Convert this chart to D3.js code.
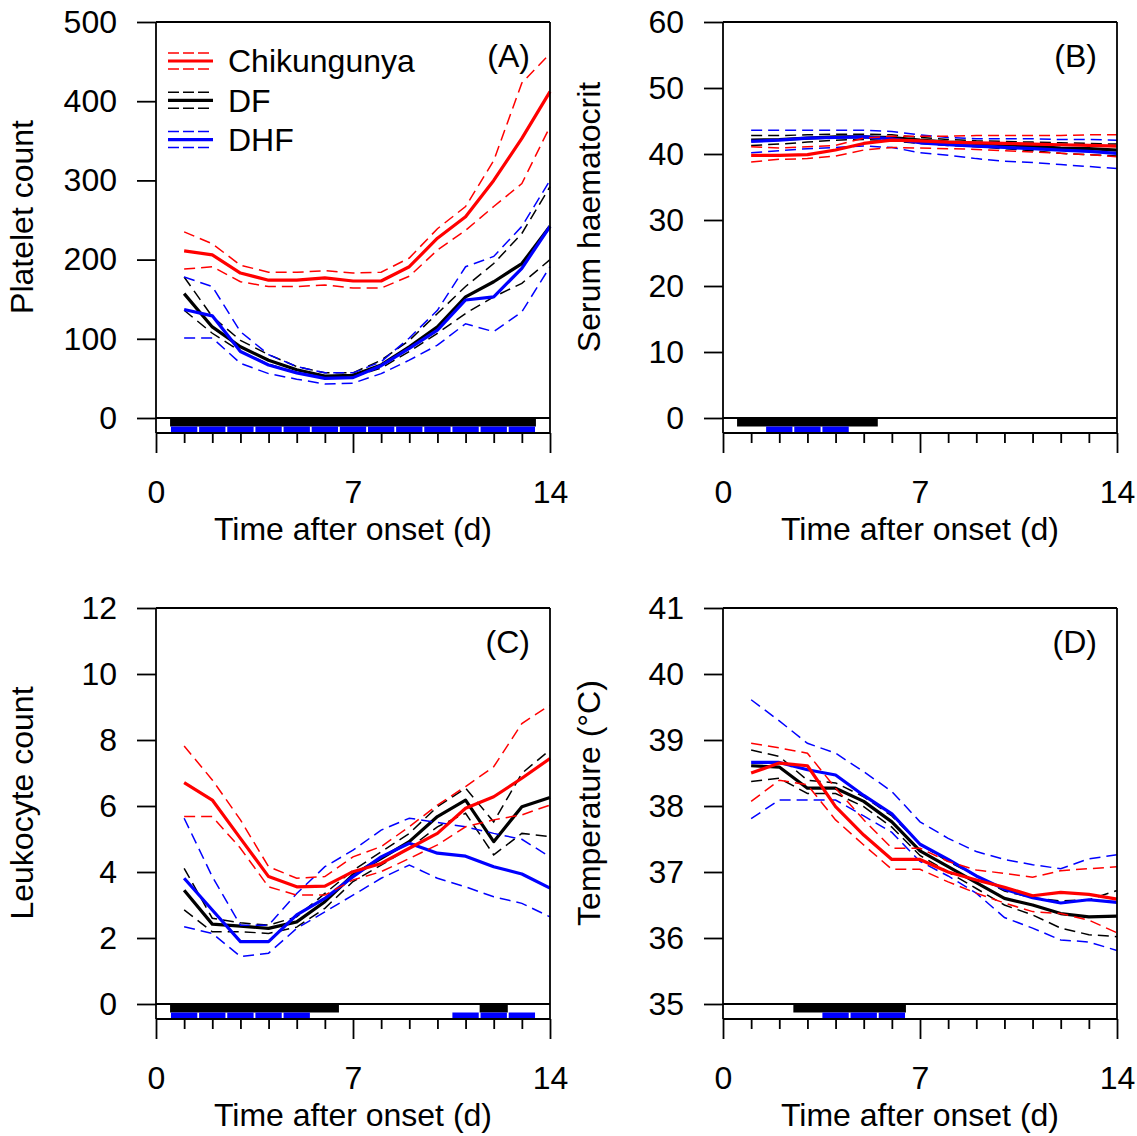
<!DOCTYPE html>
<html>
<head>
<meta charset="utf-8">
<script src="https://cdn.jsdelivr.net/npm/d3@7"></script>
<style>
  body { margin: 0; background: #fff; }
  svg { display: block; }
  text { font-family: "Liberation Sans", Arial, Helvetica, sans-serif; fill: #000; }
</style>
</head>
<body>
<div id="chart"></div>
<script>
// days after onset
var days = d3.range(1, 15);

// (A) platelet count
var chikA    = [211, 206, 183, 174, 174, 177, 173, 173, 191, 227, 254, 300, 353, 412];
var chikA_hi = [235, 220, 193, 184, 184, 186, 183, 184, 202, 239, 267, 325, 423, 460];
var chikA_lo = [188, 191, 172, 166, 166, 168, 164, 164, 179, 212, 237, 267, 296, 368];
var dfA      = [157, 115, 90, 73, 61, 53, 54, 67, 90, 115, 153, 172, 195, 242];
var dfA_hi   = [178, 128, 98, 80, 65, 57, 57, 73, 98, 132, 166, 195, 233, 292];
var dfA_lo   = [136, 107, 84, 68, 57, 50, 52, 63, 84, 107, 132, 153, 170, 200];
var dhfA     = [137, 129, 84, 67, 57, 50, 51, 66, 88, 111, 149, 153, 189, 242];
var dhfA_hi  = [178, 166, 109, 80, 65, 57, 57, 71, 101, 136, 191, 204, 242, 300];
var dhfA_lo  = [101, 101, 69, 56, 49, 43, 44, 56, 73, 92, 119, 109, 134, 191];

// (B) serum haematocrit
var chikB    = [39.8, 39.8, 39.9, 40.6, 41.6, 42.1, 42.0, 41.8, 41.7, 41.6, 41.5, 41.4, 41.3, 41.2];
var chikB_hi = [41.1, 40.9, 41.1, 41.3, 42.4, 42.7, 42.7, 42.7, 42.8, 42.8, 42.8, 42.8, 42.9, 42.9];
var chikB_lo = [38.8, 39.2, 39.3, 39.7, 40.6, 41.0, 40.9, 40.8, 40.7, 40.5, 40.3, 40.1, 39.9, 39.6];
var dfB      = [42.1, 42.2, 42.4, 42.6, 42.6, 42.5, 42.1, 41.8, 41.6, 41.4, 41.2, 40.9, 40.8, 40.6];
var dfB_hi   = [42.8, 42.8, 42.9, 43.0, 43.0, 42.9, 42.5, 42.2, 42.0, 41.9, 41.8, 41.7, 41.6, 41.5];
var dfB_lo   = [41.3, 41.5, 41.8, 42.1, 42.2, 42.0, 41.6, 41.3, 41.1, 40.8, 40.5, 40.1, 39.9, 39.7];
var dhfB     = [41.9, 42.1, 42.4, 42.5, 42.6, 42.3, 41.7, 41.4, 41.2, 41.0, 40.8, 40.6, 40.4, 40.1];
var dhfB_hi  = [43.6, 43.6, 43.6, 43.6, 43.6, 43.4, 42.9, 42.5, 42.3, 42.3, 42.3, 42.2, 42.2, 42.1];
var dhfB_lo  = [40.2, 40.5, 40.8, 41.0, 41.2, 41.0, 40.2, 39.8, 39.3, 38.9, 38.7, 38.4, 38.1, 37.8];

// (C) leukocyte count
var chikC    = [6.71, 6.18, 5.02, 3.86, 3.55, 3.57, 4.01, 4.26, 4.72, 5.17, 5.93, 6.28, 6.84, 7.44];
var chikC_hi = [7.82, 6.79, 5.58, 4.16, 3.81, 3.86, 4.46, 4.77, 5.37, 6.03, 6.59, 7.19, 8.5, 9.06];
var chikC_lo = [5.68, 5.68, 4.72, 3.55, 3.30, 3.30, 3.76, 4.01, 4.41, 4.82, 5.37, 5.58, 5.73, 6.03];
var dfC      = [3.45, 2.42, 2.36, 2.29, 2.49, 3.10, 3.91, 4.41, 4.92, 5.68, 6.18, 4.92, 5.98, 6.26];
var dfC_hi   = [4.11, 2.60, 2.46, 2.39, 2.64, 3.35, 4.05, 4.61, 5.17, 5.98, 6.54, 5.52, 6.99, 7.70];
var dfC_lo   = [2.85, 2.19, 2.19, 2.14, 2.33, 2.90, 3.71, 4.21, 4.72, 5.37, 5.78, 4.52, 5.17, 5.07];
var dhfC     = [3.81, 2.85, 1.89, 1.89, 2.70, 3.20, 3.86, 4.46, 4.87, 4.57, 4.48, 4.16, 3.94, 3.51];
var dhfC_hi  = [5.63, 3.86, 2.39, 2.39, 3.35, 4.16, 4.66, 5.27, 5.63, 5.50, 5.37, 5.17, 4.99, 4.46];
var dhfC_lo  = [2.34, 2.14, 1.44, 1.54, 2.29, 2.79, 3.30, 3.81, 4.21, 3.81, 3.55, 3.25, 3.05, 2.64];

// (D) temperature
var chikD    = [38.50, 38.65, 38.61, 37.99, 37.56, 37.19, 37.19, 37.00, 36.88, 36.77, 36.64, 36.69, 36.66, 36.59];
var chikD_hi = [38.95, 38.88, 38.80, 38.27, 37.79, 37.36, 37.36, 37.16, 37.03, 36.98, 36.92, 37.02, 37.05, 37.08];
var chikD_lo = [38.07, 38.39, 38.32, 37.79, 37.41, 37.04, 37.04, 36.85, 36.68, 36.53, 36.40, 36.37, 36.27, 36.08];
var dfD      = [38.61, 38.59, 38.27, 38.27, 38.07, 37.76, 37.32, 37.08, 36.84, 36.60, 36.50, 36.37, 36.32, 36.33];
var dfD_hi   = [38.85, 38.75, 38.39, 38.35, 38.14, 37.85, 37.42, 37.16, 36.94, 36.71, 36.61, 36.56, 36.58, 36.72];
var dfD_lo   = [38.37, 38.42, 38.19, 38.19, 37.99, 37.68, 37.25, 37.00, 36.75, 36.50, 36.35, 36.15, 36.05, 36.02];
var dhfD     = [38.66, 38.66, 38.55, 38.47, 38.16, 37.88, 37.42, 37.19, 36.94, 36.74, 36.61, 36.53, 36.58, 36.54];
var dhfD_hi  = [39.61, 39.29, 38.95, 38.80, 38.52, 38.22, 37.76, 37.51, 37.31, 37.19, 37.11, 37.05, 37.20, 37.26];
var dhfD_lo  = [37.81, 38.09, 38.09, 38.09, 37.85, 37.60, 37.16, 36.94, 36.68, 36.31, 36.15, 35.97, 35.94, 35.81];

// days with significant difference vs chikungunya (black = DF, blue = DHF)
var sigDF_A = [1, 2, 3, 4, 5, 6, 7, 8, 9, 10, 11, 12, 13];
var sigDHF_A = [1, 2, 3, 4, 5, 6, 7, 8, 9, 10, 11, 12, 13];
var sigDF_B = [1, 2, 3, 4, 5];
var sigDHF_B = [2, 3, 4];
var sigDF_C = [1, 2, 3, 4, 5, 6, 12];
var sigDHF_C = [1, 2, 3, 4, 5, 11, 12, 13];
var sigDF_D = [3, 4, 5, 6];
var sigDHF_D = [4, 5, 6];

var yTicksA = [0, 100, 200, 300, 400, 500];
var yTicksB = [0, 10, 20, 30, 40, 50, 60];
var yTicksC = [0, 2, 4, 6, 8, 10, 12];
var yTicksD = [35, 36, 37, 38, 39, 40, 41];

var groups = ["Chikungunya", "DF", "DHF"];
var groupColor = { Chikungunya: "#ff0000", DF: "#000000", DHF: "#0000ff" };

var panels = [
  { tag: "(A)", ylab: "Platelet count", ticks: yTicksA, col: 0, row: 0, legend: true,
    chik: [chikA, chikA_lo, chikA_hi], df: [dfA, dfA_lo, dfA_hi], dhf: [dhfA, dhfA_lo, dhfA_hi], sdf: sigDF_A, sdhf: sigDHF_A },
  { tag: "(B)", ylab: "Serum haematocrit", ticks: yTicksB, col: 1, row: 0,
    chik: [chikB, chikB_lo, chikB_hi], df: [dfB, dfB_lo, dfB_hi], dhf: [dhfB, dhfB_lo, dhfB_hi], sdf: sigDF_B, sdhf: sigDHF_B },
  { tag: "(C)", ylab: "Leukocyte count", ticks: yTicksC, col: 0, row: 1,
    chik: [chikC, chikC_lo, chikC_hi], df: [dfC, dfC_lo, dfC_hi], dhf: [dhfC, dhfC_lo, dhfC_hi], sdf: sigDF_C, sdhf: sigDHF_C },
  { tag: "(D)", ylab: "Temperature (\u00B0C)", ticks: yTicksD, col: 1, row: 1,
    chik: [chikD, chikD_lo, chikD_hi], df: [dfD, dfD_lo, dfD_hi], dhf: [dhfD, dhfD_lo, dhfD_hi], sdf: sigDF_D, sdhf: sigDHF_D }
];

var width = 1137, height = 1136;
var colX = [156, 723], rowY = [22, 608];
var plotW = 394, plotH = 396, strip = 15;
var fs = 32;

var svg = d3.select("#chart").append("svg")
  .attr("width", width)
  .attr("height", height);

// group consecutive days into runs so the black bar is one piece
function runs(list) {
  var out = [];
  list.forEach(function(d) {
    var last = out[out.length - 1];
    if (last && d === last[1] + 1) last[1] = d;
    else out.push([d, d]);
  });
  return out;
}

panels.forEach(function(p) {
  var x0 = colX[p.col], x1 = x0 + plotW;
  var yTop = rowY[p.row], yZero = yTop + plotH, yAxis = yZero + strip;

  var x = d3.scaleLinear().domain([0, 14]).range([x0, x1]);
  var y = d3.scaleLinear().domain(d3.extent(p.ticks)).range([yZero, yTop]);

  var g = svg.append("g");

  // significance strip
  runs(p.sdf).forEach(function(r) {
    g.append("rect")
      .attr("x", x(r[0] - 0.5)).attr("y", yZero)
      .attr("width", x(r[1] + 0.5) - x(r[0] - 0.5)).attr("height", 8.5)
      .attr("fill", "#000");
  });
  p.sdhf.forEach(function(d) {
    g.append("rect")
      .attr("x", x(d - 0.5) + 0.9).attr("y", yZero + 8.5)
      .attr("width", x(d + 0.5) - x(d - 0.5) - 1.8).attr("height", 6.5)
      .attr("fill", "#0000ff");
  });

  // series: DF, DHF, then chikungunya on top
  var line = d3.line()
    .x(function(d, i) { return x(days[i]); })
    .y(function(d) { return y(d); });

  [["DF", p.df], ["DHF", p.dhf], ["Chikungunya", p.chik]].forEach(function(s) {
    var c = groupColor[s[0]];
    [s[1][1], s[1][2]].forEach(function(arr) {
      g.append("path").datum(arr)
        .attr("d", line).attr("fill", "none")
        .attr("stroke", c).attr("stroke-width", 1.5)
        .attr("stroke-dasharray", "11,6");
    });
    g.append("path").datum(s[1][0])
      .attr("d", line).attr("fill", "none")
      .attr("stroke", c).attr("stroke-width", 3.2)
      .attr("stroke-linejoin", "round");
  });

  // frame
  var lw = 1.8;
  g.append("line").attr("x1", x0).attr("x2", x0).attr("y1", yTop).attr("y2", yAxis).attr("stroke", "#000").attr("stroke-width", lw);
  g.append("line").attr("x1", x1).attr("x2", x1).attr("y1", yTop).attr("y2", yAxis).attr("stroke", "#000").attr("stroke-width", lw);
  g.append("line").attr("x1", x0).attr("x2", x1).attr("y1", yTop).attr("y2", yTop).attr("stroke", "#000").attr("stroke-width", lw);
  g.append("line").attr("x1", x0).attr("x2", x1).attr("y1", yZero).attr("y2", yZero).attr("stroke", "#000").attr("stroke-width", lw);
  g.append("line").attr("x1", x0).attr("x2", x1).attr("y1", yAxis).attr("y2", yAxis).attr("stroke", "#000").attr("stroke-width", lw);

  // y axis
  var ya = g.append("g")
    .attr("transform", "translate(" + x0 + ",0)")
    .call(d3.axisLeft(y).tickValues(p.ticks).tickFormat(d3.format("d"))
      .tickSize(19).tickPadding(20).tickSizeOuter(0));
  ya.select(".domain").remove();
  ya.selectAll("line").attr("stroke-width", lw);
  ya.selectAll("text").style("font-size", fs + "px");

  // x axis: minor day ticks and labelled major ticks
  var xm = g.append("g")
    .attr("transform", "translate(0," + yAxis + ")")
    .call(d3.axisBottom(x).tickValues(days.filter(function(d) { return d !== 7 && d !== 14; }))
      .tickSize(10).tickFormat("").tickSizeOuter(0));
  xm.select(".domain").remove();
  xm.selectAll("line").attr("stroke-width", lw);

  var xa = g.append("g")
    .attr("transform", "translate(0," + yAxis + ")")
    .call(d3.axisBottom(x).tickValues([0, 7, 14]).tickSize(20).tickSizeOuter(0));
  xa.select(".domain").remove();
  xa.selectAll("line").attr("stroke-width", lw);
  xa.selectAll("text").attr("y", 70).attr("dy", 0).style("font-size", fs + "px");

  // titles
  g.append("text")
    .attr("x", (x0 + x1) / 2).attr("y", yAxis + 107)
    .attr("text-anchor", "middle").style("font-size", fs + "px")
    .text("Time after onset (d)");
  g.append("text")
    .attr("transform", "translate(" + (x0 - 123) + "," + ((yTop + yZero) / 2 - 3) + ") rotate(-90)")
    .attr("text-anchor", "middle").style("font-size", fs + "px")
    .text(p.ylab);
  g.append("text")
    .attr("x", x1 - 20).attr("y", yTop + 45)
    .attr("text-anchor", "end").style("font-size", fs + "px")
    .text(p.tag);

  if (p.legend) {
    var lg = g.append("g");
    groups.forEach(function(name, i) {
      var cy = yTop + 39 + i * 39.3;
      var c = groupColor[name];
      [-8, 8].forEach(function(off) {
        lg.append("line").attr("x1", x0 + 12).attr("x2", x0 + 57)
          .attr("y1", cy + off).attr("y2", cy + off)
          .attr("stroke", c).attr("stroke-width", 1.5).attr("stroke-dasharray", "11,4");
      });
      lg.append("line").attr("x1", x0 + 12).attr("x2", x0 + 57)
        .attr("y1", cy).attr("y2", cy)
        .attr("stroke", c).attr("stroke-width", 3.2);
      lg.append("text").attr("x", x0 + 72).attr("y", cy).attr("dy", "0.35em")
        .style("font-size", fs + "px").text(name);
    });
  }
});
</script>
</body>
</html>
